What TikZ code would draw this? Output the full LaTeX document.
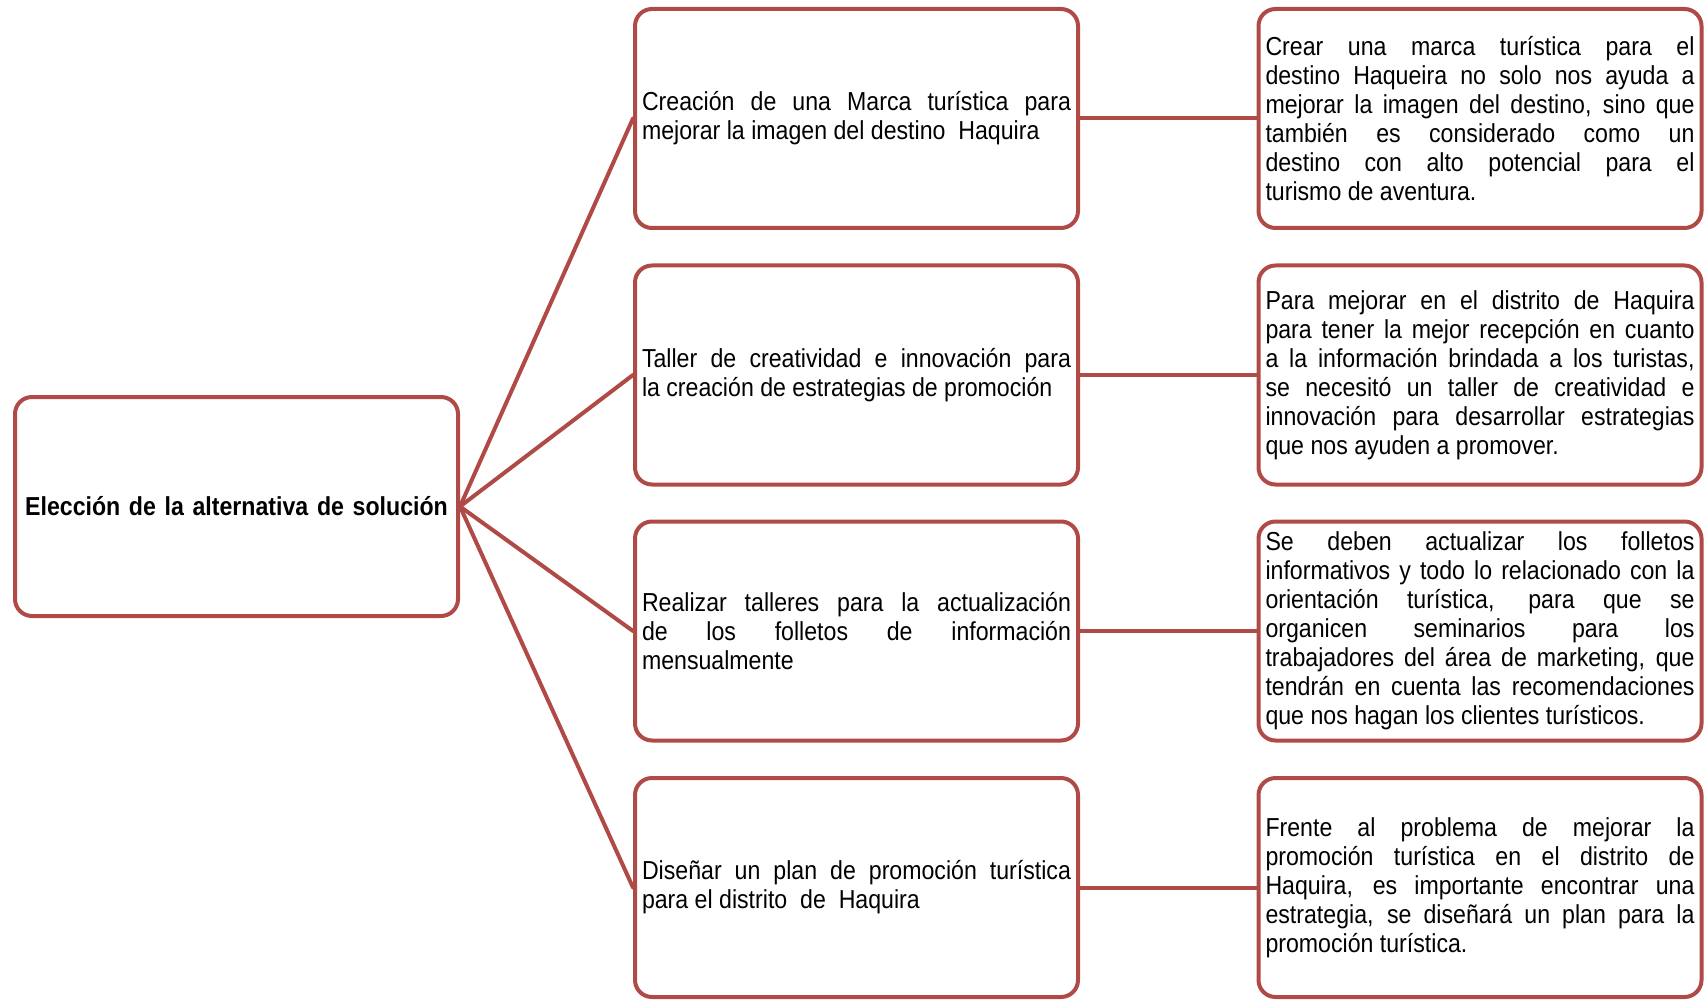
\documentclass[tikz,border=0pt]{standalone}
\usepackage{fontspec}
\setmainfont[FakeStretch=0.89]{Liberation Sans}
\definecolor{rojo}{RGB}{176,74,71}
\hyphenpenalty=10000

\begin{document}
\begin{tikzpicture}[x=0.5pt, y=-0.5pt, line join=round, line cap=round,
    caja/.style={draw=rojo, line width=2pt, rounded corners=8.5pt,
      minimum width=221.5pt, minimum height=109.5pt, inner sep=3.5pt,
      text width=214.5pt, align=justify, font=\fontsize{13}{14.5}\selectfont},
    linea/.style={draw=rojo, line width=2pt}]
  \useasboundingbox (0,0) rectangle (1707,1000);
  % caja principal
  \node[caja, align=center, font=\fontsize{13}{14.5}\selectfont\bfseries] (elec) at (236.5,506.5)
    {Elección de la alternativa de solución};
  % alternativas
  \node[caja] (alt1) at (856.5,118.5)
    {Creación de una Marca turística para\linebreak mejorar la imagen del destino~ Haquira};
  \node[caja] (alt2) at (856.5,375)
    {Taller de creatividad e innovación para\linebreak la creación de estrategias de promoción};
  \node[caja] (alt3) at (856.5,631)
    {Realizar talleres para la actualización\linebreak de los folletos de información\linebreak mensualmente};
  \node[caja] (alt4) at (856.5,887.5)
    {Diseñar un plan de promoción turística\linebreak para el distrito~ de~ Haquira};
  % justificaciones
  \node[caja] (jus1) at (1480,118.5)
    {Crear una marca turística para el\linebreak destino Haqueira no solo nos ayuda a\linebreak mejorar la imagen del destino, sino que\linebreak también es considerado como un\linebreak destino con alto potencial para el\linebreak turismo de aventura.};
  \node[caja] (jus2) at (1480,375)
    {Para mejorar en el distrito de Haquira\linebreak para tener la mejor recepción en cuanto\linebreak a la información brindada a los turistas,\linebreak se necesitó un taller de creatividad e\linebreak innovación para desarrollar estrategias\linebreak que nos ayuden a promover.};
  \node[caja] (jus3) at (1480,631)
    {Se deben actualizar los folletos\linebreak informativos y todo lo relacionado con la\linebreak orientación turística, para que se\linebreak organicen seminarios para los\linebreak trabajadores del área de marketing, que\linebreak tendrán en cuenta las recomendaciones\linebreak que nos hagan los clientes turísticos.};
  \node[caja] (jus4) at (1480,887.5)
    {Frente al problema de mejorar la\linebreak promoción turística en el distrito de\linebreak Haquira, es importante encontrar una\linebreak estrategia, se diseñará un plan para la\linebreak promoción turística.};
  \foreach \i in {1,2,3,4} {
    \draw[linea] (elec.east) -- (alt\i.west);
    \draw[linea] (alt\i.east) -- (jus\i.west);
  }
\end{tikzpicture}
\end{document}
